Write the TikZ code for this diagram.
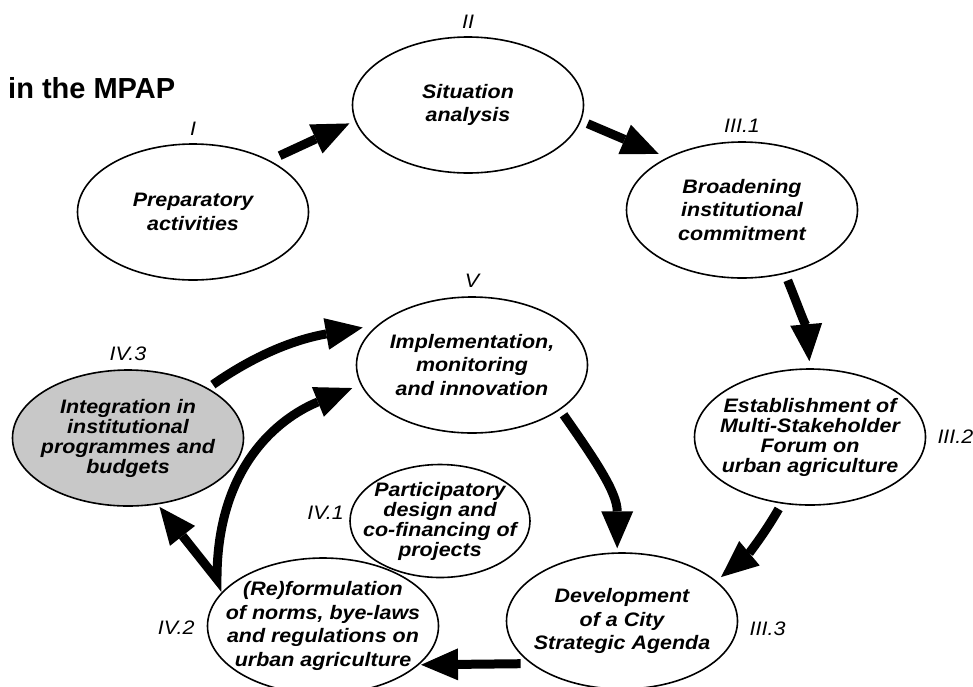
\documentclass[tikz,border=0pt]{standalone}
\usepackage{fontspec}
\setmainfont{Liberation Sans}
\newfontfamily\phasefont{Liberation Sans}[FakeStretch=1.1]
\usetikzlibrary{arrows.meta,positioning,shapes.geometric}

\definecolor{budgetfill}{RGB}{200,200,200}

\tikzset{
  bigtip/.tip={Triangle[length=37pt,width=32pt,line width=0pt]},
  phase/.style={ellipse, draw, line width=1.6pt, minimum width=231pt, minimum height=136pt,
    inner xsep=-18pt, inner ysep=0pt, align=center,
    font=\phasefont\fontsize{19.5}{23.5}\selectfont\bfseries\itshape},
  tightphase/.style={phase, font=\phasefont\fontsize{19.5}{20}\selectfont\bfseries\itshape},
  phaselabel/.style={inner sep=0pt, font=\phasefont\fontsize{19.5}{20}\selectfont\itshape},
  flow/.style={line width=9pt, -bigtip}
}

\begin{document}
\begin{tikzpicture}[x=1pt,y=-1pt]
                \useasboundingbox (0,0) rectangle (973,686);

                \node[anchor=west, inner sep=0pt, font=\fontsize{29}{30}\selectfont\bfseries] (title) at (8,88) {in the MPAP};

                \node[phase] (prep) at (193,212) {Preparatory\\activities};
                \node[phase] (situation) at (468,105) {Situation\\analysis};
                \node[phase] (commit) at (742,210) {Broadening\\institutional\\commitment};
                \node[tightphase] (forum) at (810,437) {Establishment of\\Multi-Stakeholder\\Forum on\\urban agriculture};
                \node[phase] (agenda) at (622,621) {Development\\of a City\\Strategic Agenda};
                \node[phase] (implement) at (472,365) {Implementation,\\monitoring\\and innovation};
                \node[tightphase, fill=budgetfill] (budget) at (128,438) {Integration in\\institutional\\programmes and\\budgets};
                \node[tightphase, minimum width=180pt, minimum height=113pt] (design) at (440,521) {Participatory\\design and\\co-financing of\\projects};
                \node[phase] (reform) at (323,626) {(Re)formulation\\of norms, bye-laws\\and regulations on\\urban agriculture};

                \node[phaselabel, above=8pt of prep] (prepnum) {I};
                \node[phaselabel, above=8pt of situation] (situationnum) {II};
                \node[phaselabel, above=9pt of commit] (commitnum) {III.1};
                \node[phaselabel, right=11pt of forum] (forumnum) {III.2};
                \node[phaselabel, right=12pt of agenda.-4] (agendanum) {III.3};
                \node[phaselabel, above=9pt of implement] (implementnum) {V};
                \node[phaselabel, above=8pt of budget] (budgetnum) {IV.3};
                \node[phaselabel, left=6pt of design.175] (designnum) {IV.1};
                \node[phaselabel, left=12pt of reform.181] (reformnum) {IV.2};

                \path[flow] (prep.34) edge [shorten <=11pt, shorten >=6pt] (situation.188)
                          (situation.-8) edge [shorten <=7pt, shorten >=9pt] (commit.145)
                          (commit.-56) edge [out=-68, in=95, shorten <=7pt, shorten >=7pt] (forum.90)
                          (forum.-113) edge [out=-120, in=40, shorten <=6pt, shorten >=6pt] (agenda.23)
                          (implement.-27) edge [out=-55, in=90, shorten <=6pt, shorten >=4pt] (agenda.94)
                          (agenda.205) edge [shorten <=10pt, shorten >=2pt] (reform.-22)
                          (budget.32) edge [out=35, in=-170, shorten <=6pt, shorten >=15pt] (implement.157);

                % both arrows leave IV.2 from one point
                \coordinate (split) at ([xshift=-10pt,yshift=8pt]reform.158);
                \draw[line width=9pt, bigtip-bigtip, shorten <=3pt, shorten >=9pt]
                  (budget.-66) -- (split) .. controls +(0,-120) and +(-74,30) .. (implement.190);
            \end{tikzpicture}
\end{document}
